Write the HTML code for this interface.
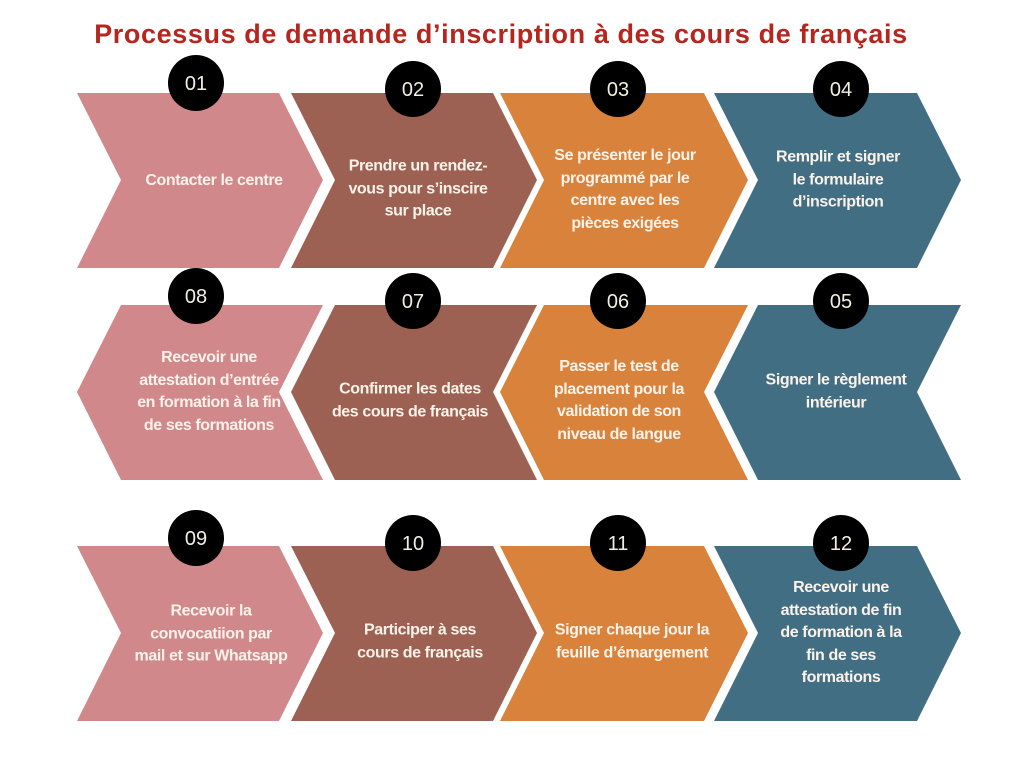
<!DOCTYPE html>
<html><head><meta charset="utf-8"><style>
body{margin:0;width:1024px;height:768px;background:#fff;overflow:hidden;font-family:"Liberation Sans",sans-serif}
svg{position:absolute;left:0;top:0}
.t{position:absolute;color:#fbf3ea;font-weight:bold;font-size:16px;letter-spacing:-0.4px;line-height:22.5px;text-align:center;transform:translate(-50%,-50%);white-space:nowrap}
</style></head><body>
<svg width="1024" height="768">
<text x="501" y="43" text-anchor="middle" font-family="Liberation Sans" font-weight="bold" font-size="27" letter-spacing="0.6" fill="#b5261f">Processus de demande d’inscription à des cours de français</text>
<polygon points="77,93 279,93 323,180 279,268 77,268 121,180" fill="#d0888b"/>
<polygon points="291,93 493,93 537,180 493,268 291,268 335,180" fill="#9c6152"/>
<polygon points="500,93 704,93 748,180 704,268 500,268 544,180" fill="#d9823b"/>
<polygon points="714,93 917,93 961,180 917,268 714,268 758,180" fill="#426e84"/>
<polygon points="77,392 121,305 323,305 279,392 323,480 121,480" fill="#d0888b"/>
<polygon points="291,392 335,305 537,305 493,392 537,480 335,480" fill="#9c6152"/>
<polygon points="500,392 544,305 748,305 704,392 748,480 544,480" fill="#d9823b"/>
<polygon points="714,392 758,305 961,305 917,392 961,480 758,480" fill="#426e84"/>
<polygon points="77,546 279,546 323,633 279,721 77,721 121,633" fill="#d0888b"/>
<polygon points="291,546 493,546 537,633 493,721 291,721 335,633" fill="#9c6152"/>
<polygon points="500,546 704,546 748,633 704,721 500,721 544,633" fill="#d9823b"/>
<polygon points="714,546 917,546 961,633 917,721 714,721 758,633" fill="#426e84"/>
<g fill="#000">
<circle cx="196" cy="83" r="28"/><circle cx="413" cy="89" r="28"/><circle cx="618" cy="89" r="28"/><circle cx="841" cy="89" r="28"/>
<circle cx="196" cy="296" r="28"/><circle cx="413" cy="301" r="28"/><circle cx="618" cy="301" r="28"/><circle cx="841" cy="301" r="28"/>
<circle cx="196" cy="538" r="28"/><circle cx="413" cy="543" r="28"/><circle cx="618" cy="543" r="28"/><circle cx="841" cy="543" r="28"/>
</g>
<g fill="#f3efe0" font-family="Liberation Sans" font-size="20" text-anchor="middle">
<text x="196" y="90">01</text><text x="413" y="96">02</text><text x="618" y="96">03</text><text x="841" y="96">04</text>
<text x="196" y="303">08</text><text x="413" y="308">07</text><text x="618" y="308">06</text><text x="841" y="308">05</text>
<text x="196" y="545">09</text><text x="413" y="550">10</text><text x="618" y="550">11</text><text x="841" y="550">12</text>
</g>
</svg>
<div class="t" style="left:214px;top:181px">Contacter le centre</div>
<div class="t" style="left:418px;top:189px">Prendre un rendez-<br>vous pour s’inscire<br>sur place</div>
<div class="t" style="left:625px;top:190px">Se présenter le jour<br>programmé par le<br>centre avec les<br>pièces exigées</div>
<div class="t" style="left:838px;top:180px">Remplir et signer<br>le formulaire<br>d’inscription</div>
<div class="t" style="left:209px;top:392px">Recevoir une<br>attestation d’entrée<br>en formation à la fin<br>de ses formations</div>
<div class="t" style="left:410px;top:401px">Confirmer les dates<br>des cours de français</div>
<div class="t" style="left:619px;top:401px">Passer le test de<br>placement pour la<br>validation de son<br>niveau de langue</div>
<div class="t" style="left:836px;top:392px">Signer le règlement<br>intérieur</div>
<div class="t" style="left:211px;top:634px">Recevoir la<br>convocatiion par<br>mail et sur Whatsapp</div>
<div class="t" style="left:420px;top:642px">Participer à ses<br>cours de français</div>
<div class="t" style="left:632px;top:642px">Signer chaque jour la<br>feuille d’émargement</div>
<div class="t" style="left:841px;top:633px">Recevoir une<br>attestation de fin<br>de formation à la<br>fin de ses<br>formations</div>
</body></html>
